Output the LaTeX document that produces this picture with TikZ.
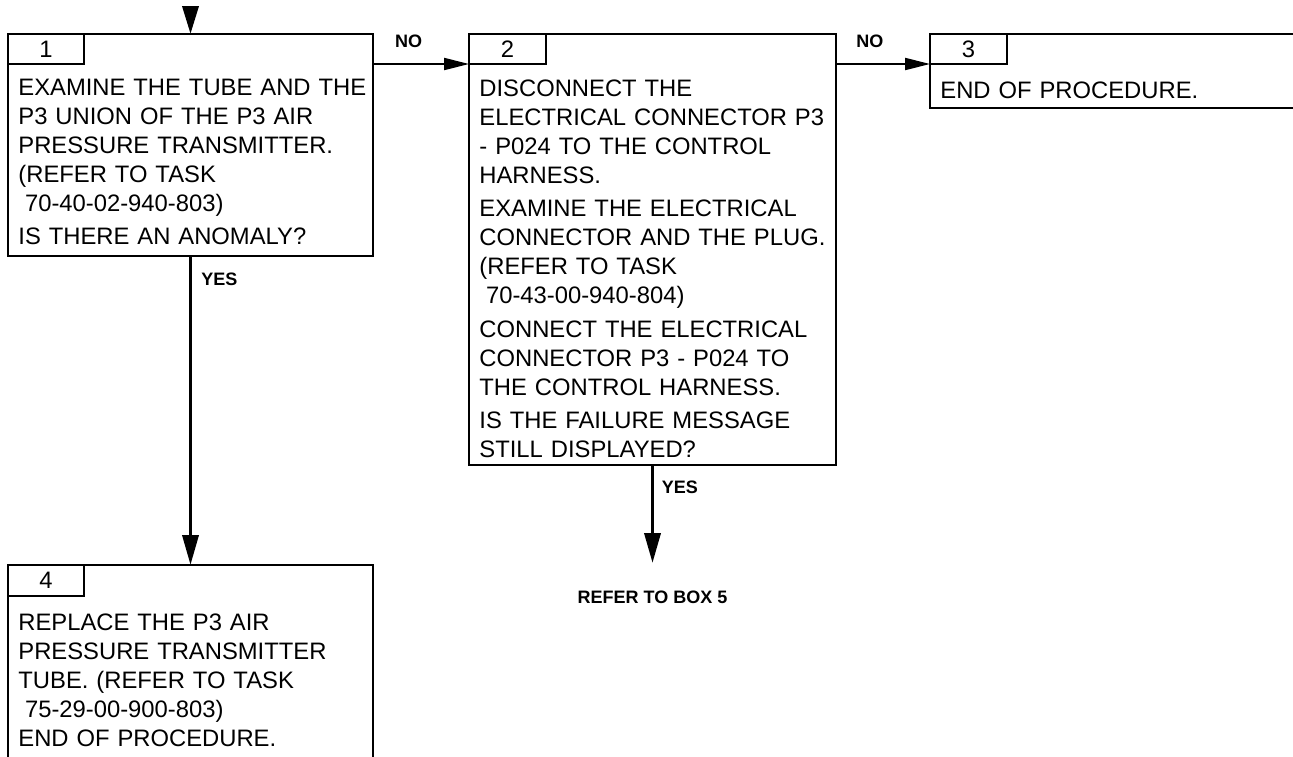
\documentclass[tikz,border=0pt]{standalone}
\usepackage{fontspec}
\setmainfont{Liberation Sans}
\usetikzlibrary{arrows.meta,fit}

\tikzset{
  box/.style={draw, line width=1.2pt, inner sep=0pt, outer sep=0pt},
  num/.style={inner sep=0pt, font=\fontsize{11.9}{14.5}\selectfont},
  boxtext/.style={anchor=base west, align=left, inner sep=0pt, text width=#1,
    font=\fontsize{11.9}{14.5}\selectfont},
  lbl/.style={font=\fontsize{9}{11}\selectfont\bfseries, inner sep=0pt},
  varrow/.style={line width=1.8pt, -{Triangle[length=15pt,width=8pt]}},
  harrow/.style={line width=1pt, -{Triangle[length=12.5pt,width=6pt]}},
  entry/.style={line width=1.8pt, -{Triangle[length=14pt,width=8pt]}}
}

\begin{document}
\begin{tikzpicture}[x=0.5pt,y=-0.5pt]
\useasboundingbox (0,0) rectangle (1293,756);
\clip (0,0) rectangle (1293,756);

% boxes
\node[box, fit={(8,34) (373,256)}] (box1) {};
\node[box, fit={(469,34) (836,465)}] (box2) {};
\node[box, fit={(930,34) (1320,108)}] (box3) {};
\node[box, fit={(8,565) (373,790)}] (box4) {};

% number tabs
\node[box, fit={(8,34) (84,64)}] (tab1) {};
\node[box, fit={(469,34) (546,64)}] (tab2) {};
\node[box, fit={(930,34) (1007,64)}] (tab3) {};
\node[box, fit={(8,565) (84,596)}] (tab4) {};
\node[num] (n1) at (tab1.center) {1};
\node[num] (n2) at (tab2.center) {2};
\node[num] (n3) at (tab3.center) {3};
\node[num] (n4) at (tab4.center) {4};

% texts
\node[boxtext=180pt] (text1) at (18,95) {EXAMINE THE TUBE AND THE\\
P3 UNION OF THE P3 AIR\\
PRESSURE TRANSMITTER.\\
(REFER TO TASK\\
\hspace*{0.28em}70-40-02-940-803)\\[2.4pt]
IS THERE AN ANOMALY?};

\node[boxtext=180pt] (text2) at (479,96) {DISCONNECT THE\\
ELECTRICAL CONNECTOR P3\\
- P024 TO THE CONTROL\\
HARNESS.\\[2.3pt]
EXAMINE THE ELECTRICAL\\
CONNECTOR AND THE PLUG.\\
(REFER TO TASK\\
\hspace*{0.28em}70-43-00-940-804)\\[2.3pt]
CONNECT THE ELECTRICAL\\
CONNECTOR P3 - P024 TO\\
THE CONTROL HARNESS.\\[2.3pt]
IS THE FAILURE MESSAGE\\
STILL DISPLAYED?};

\node[boxtext=180pt] (text3) at (940,98) {END OF PROCEDURE.};

\node[boxtext=180pt] (text4) at (18,630) {REPLACE THE P3 AIR\\
PRESSURE TRANSMITTER\\
TUBE. (REFER TO TASK\\
\hspace*{0.28em}75-29-00-900-803)\\
END OF PROCEDURE.};

% connectors
\coordinate (in1) at (190.5,6);
\draw[entry] (in1) -- (box1.north);

\draw[harrow] (box1.east |- tab1.south) -- node[lbl, pos=0.37, above=7.8pt] {NO} (box2.west |- tab1.south);
\draw[harrow] (box2.east |- tab2.south) -- node[lbl, pos=0.36, above=7.8pt] {NO} (box3.west |- tab2.south);

\draw[varrow] (box1.south) -- node[lbl, pos=0.074, right=4.5pt] {YES} (box4.north);

\node[lbl] (ref5) at (652.5,597) {REFER TO BOX 5};
\coordinate (tip5) at (652.5,563);
\draw[varrow] (box2.south) -- node[lbl, pos=0.23, right=3.75pt] {YES} (tip5);
\end{tikzpicture}
\end{document}
